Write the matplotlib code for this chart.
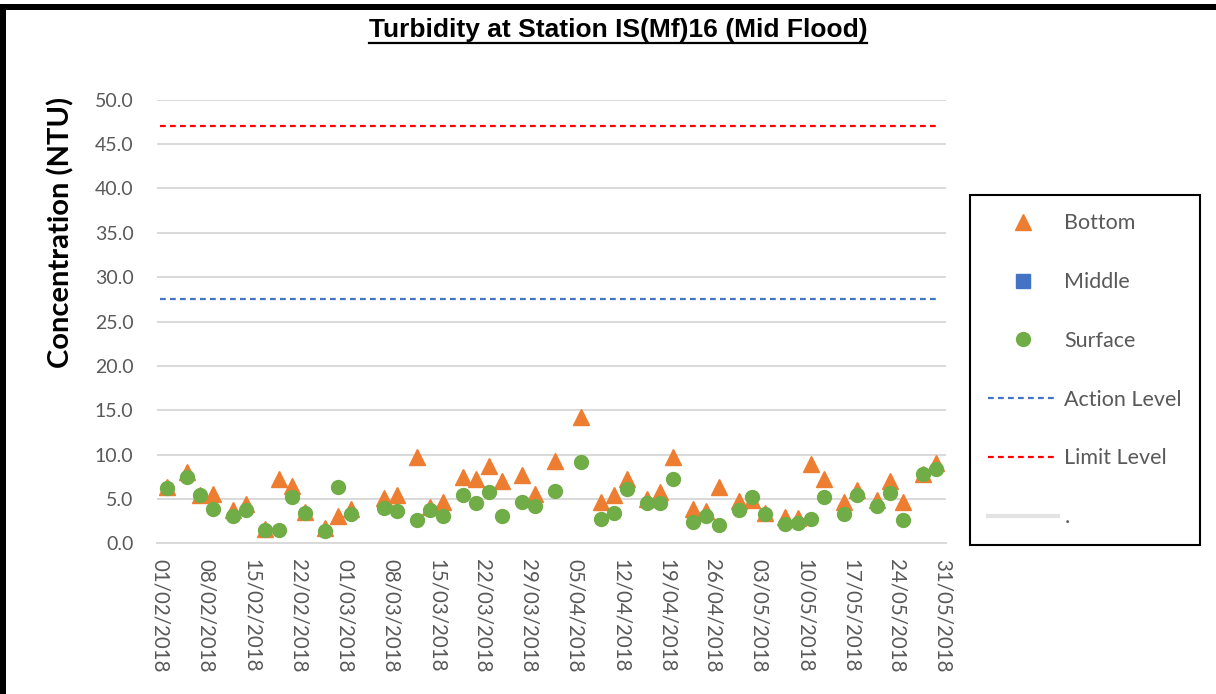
import matplotlib
matplotlib.use("Agg")
import matplotlib.pyplot as plt
from matplotlib.lines import Line2D
from matplotlib.patches import Rectangle
from matplotlib.ticker import FuncFormatter
import pandas as pd

# ---- data -------------------------------------------------------------
sample_dates = [
    "02/02/2018", "05/02/2018", "07/02/2018", "09/02/2018", "12/02/2018",
    "14/02/2018", "17/02/2018", "19/02/2018", "21/02/2018", "23/02/2018",
    "26/02/2018", "28/02/2018", "02/03/2018", "07/03/2018", "09/03/2018",
    "12/03/2018", "14/03/2018", "16/03/2018", "19/03/2018", "21/03/2018",
    "23/03/2018", "25/03/2018", "28/03/2018", "30/03/2018", "02/04/2018",
    "06/04/2018", "09/04/2018", "11/04/2018", "13/04/2018", "16/04/2018",
    "18/04/2018", "20/04/2018", "23/04/2018", "25/04/2018", "27/04/2018",
    "30/04/2018", "02/05/2018", "04/05/2018", "07/05/2018", "09/05/2018",
    "11/05/2018", "13/05/2018", "16/05/2018", "18/05/2018", "21/05/2018",
    "23/05/2018", "25/05/2018", "28/05/2018", "30/05/2018",
]
bottom = [
    6.4, 8.0, 5.5, 5.6, 3.8, 4.4, 1.6, 7.2, 6.5, 3.5,
    1.7, 3.1, 3.9, 5.1, 5.4, 9.7, 4.1, 4.7, 7.5, 7.3,
    8.7, 7.0, 7.7, 5.6, 9.3, 14.2, 4.7, 5.4, 7.3, 5.0,
    5.8, 9.7, 3.9, 3.6, 6.4, 4.8, 4.9, 3.4, 3.0, 2.9,
    8.9, 7.2, 4.6, 6.0, 4.9, 7.0, 4.7, 7.8, 9.1,
]
middle = []
surface = [
    6.2, 7.5, 5.4, 3.9, 3.1, 3.7, 1.5, 1.5, 5.2, 3.4,
    1.4, 6.4, 3.3, 4.0, 3.6, 2.6, 3.8, 3.1, 5.4, 4.5,
    5.8, 3.1, 4.6, 4.2, 5.9, 9.2, 2.7, 3.4, 6.1, 4.5,
    4.5, 7.2, 2.4, 3.1, 2.1, 3.8, 5.2, 3.3, 2.2, 2.3,
    2.7, 5.2, 3.3, 5.5, 4.2, 5.7, 2.6, 7.8, 8.4,
]
action_level = 27.5
limit_level = 47.0
level_dates = ["01/02/2018", "30/05/2018"]
axis_start, axis_end = "01/02/2018", "31/05/2018"
y_ticks = [0.0, 5.0, 10.0, 15.0, 20.0, 25.0, 30.0, 35.0, 40.0, 45.0, 50.0]

title = "Turbidity at Station IS(Mf)16 (Mid Flood)"
y_label = "Concentration (NTU)"

# ---- style ------------------------------------------------------------
ORANGE = "#ED7D31"
BLUE = "#4472C4"
GREEN = "#70AD47"
RED = "#FF0000"
GRID = "#D9D9D9"
TEXT = "#595959"
DASH = (0, (2.6, 1.9))

plt.rcParams["font.family"] = ["Lato", "DejaVu Sans"]

W, H = 1216, 694
fig = plt.figure(figsize=(W / 100, H / 100), dpi=100)
fig.patch.set_facecolor("white")

# plot area in pixel units
px_left, px_right, px_top, px_bottom = 157, 946, 99.8, 543.3
ax = fig.add_axes([px_left / W, (H - px_bottom) / H,
                   (px_right - px_left) / W, (px_bottom - px_top) / H])

to_dt = lambda s: pd.to_datetime(s, format="%d/%m/%Y")
x = to_dt(pd.Series(sample_dates))
lx = to_dt(pd.Series(level_dates))

ax.plot(lx, [action_level] * len(lx), color=BLUE, lw=1.6,
        linestyle=DASH, zorder=2)
ax.plot(lx, [limit_level] * len(lx), color=RED, lw=1.6,
        linestyle=DASH, zorder=2)

ax.plot(x, bottom, linestyle="none", marker="^", markersize=11,
        color=ORANGE, markeredgecolor=ORANGE, zorder=3)
if middle:
    ax.plot(x[:len(middle)], middle, linestyle="none", marker="s",
            markersize=9, color=BLUE, zorder=3)
ax.plot(x, surface, linestyle="none", marker="o", markersize=10,
        color=GREEN, markeredgecolor=GREEN, zorder=4)

# axes limits and ticks
x0, x1 = to_dt(axis_start), to_dt(axis_end)
ax.set_xlim(x0 - pd.Timedelta(hours=12), x1 + pd.Timedelta(hours=12))
ax.set_ylim(0, 50)
tick_dates = pd.date_range(x0, x1, freq="7D")
ax.set_xticks(tick_dates)
ax.set_xticklabels([d.strftime("%d/%m/%Y") for d in tick_dates],
                   rotation=-90, ha="center", va="top")
ax.set_yticks(y_ticks)
ax.yaxis.set_major_formatter(FuncFormatter(lambda v, p: f"{v:.1f}"))
ax.tick_params(axis="both", length=0, labelsize=14, labelcolor=TEXT)
ax.tick_params(axis="x", pad=11, labelsize=14.8)
ax.tick_params(axis="y", pad=17)

ax.yaxis.grid(True, color=GRID, linewidth=1.4)
ax.set_axisbelow(True)
for side in ("top", "right", "left"):
    ax.spines[side].set_visible(False)
ax.spines["bottom"].set_color(GRID)
ax.spines["bottom"].set_linewidth(1.4)

ax.set_ylabel(y_label, fontsize=21, fontweight="bold", color="black")
ax.yaxis.set_label_coords((74 - px_left) / (px_right - px_left),
                          (px_bottom - 232) / (px_bottom - px_top))

# title with underline
t = fig.text(618 / W, 1 - 30 / H, title, ha="center", va="center",
             fontsize=19, fontweight="bold", color="black",
             family=["Liberation Sans", "DejaVu Sans"])

# legend
handles = [
    Line2D([], [], linestyle="none", marker="^", markersize=11, color=ORANGE),
    Line2D([], [], linestyle="none", marker="s", markersize=10, color=BLUE),
    Line2D([], [], linestyle="none", marker="o", markersize=10, color=GREEN),
    Line2D([], [], color=BLUE, lw=1.6, linestyle=DASH),
    Line2D([], [], color=RED, lw=1.6, linestyle=DASH),
    Line2D([], [], color="#E3E3E3", lw=3),
]
labels = ["Bottom", "Middle", "Surface", "Action Level", "Limit Level", "."]
leg = fig.legend(handles, labels, loc="upper left",
                 bbox_to_anchor=(970 / W, 1 - 195 / H), borderaxespad=0,
                 frameon=True, fancybox=False, edgecolor="black",
                 framealpha=1, fontsize=15.5, labelspacing=1.8,
                 handlelength=3.25, handletextpad=0.28, borderpad=0.85,
                 labelcolor=TEXT)
leg.get_frame().set_linewidth(1.5)

# outer frame bars (top and left)
fig.add_artist(Rectangle((0, 1 - 10 / H), 1, 6 / H, transform=fig.transFigure,
                         color="black", lw=0))
fig.add_artist(Rectangle((0, 0), 6 / W, 1 - 4 / H, transform=fig.transFigure,
                         color="black", lw=0))

fig.canvas.draw()
bb = t.get_window_extent(fig.canvas.get_renderer())
uy = (bb.y0 - 1) / H
fig.add_artist(Line2D([bb.x0 / W, bb.x1 / W], [uy, uy],
                      transform=fig.transFigure, color="black", lw=1.6))

fig.savefig("out.png", dpi=100, facecolor="white")
